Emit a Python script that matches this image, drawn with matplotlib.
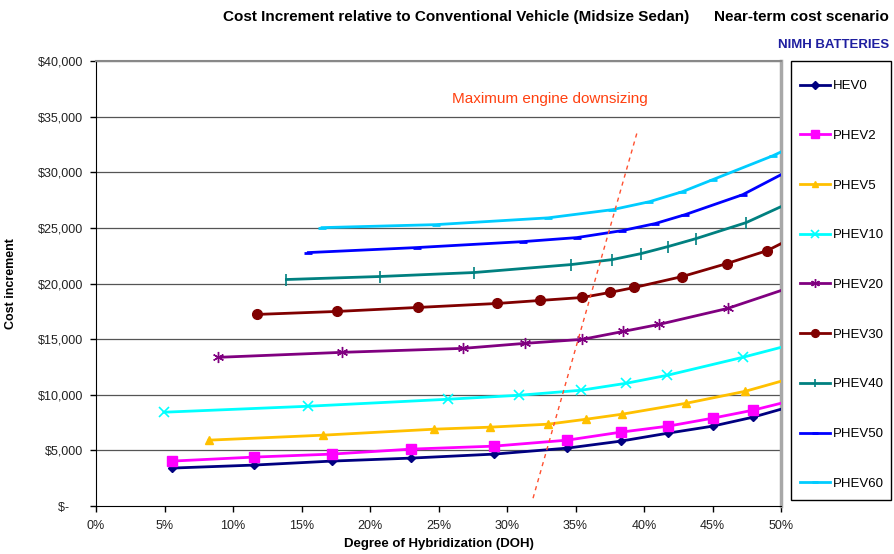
import matplotlib
matplotlib.use("Agg")
import matplotlib.pyplot as plt
from matplotlib.ticker import FuncFormatter
from matplotlib.patches import Rectangle

plt.rcParams['font.family'] = ['Liberation Sans', 'DejaVu Sans']

# ---- data (DOH in %, cost in $) ----
hev0_x = [5.55, 11.5, 17.2, 23.0, 29.05, 34.4, 38.3, 41.75, 45.0, 47.95, 51.0]
hev0_y = [3408, 3677, 4036, 4305, 4664, 5202, 5830, 6547, 7175, 7982, 9050]

phev2_x = [5.55, 11.5, 17.2, 23.0, 29.05, 34.4, 38.3, 41.75, 45.0, 47.95, 51.0]
phev2_y = [4036, 4395, 4664, 5112, 5381, 5919, 6637, 7175, 7892, 8610, 9540]

phev5_x = [8.25, 16.6, 24.7, 28.75, 33.0, 35.8, 38.4, 43.1, 47.4, 51.0]
phev5_y = [5919, 6368, 6906, 7085, 7355, 7803, 8251, 9238, 10314, 11560]

phev10_x = [4.96, 15.5, 25.7, 30.9, 35.4, 38.7, 41.7, 47.2, 51.0]
phev10_y = [8430, 8968, 9596, 9955, 10404, 11031, 11749, 13363, 14580]

phev20_x = [8.9, 17.95, 26.8, 31.3, 35.5, 38.5, 41.1, 46.1, 51.0]
phev20_y = [13363, 13812, 14170, 14619, 14978, 15695, 16323, 17758, 19780]

phev30_x = [11.75, 17.6, 23.5, 29.3, 32.4, 35.5, 37.5, 39.3, 42.8, 46.05, 49.0, 51.0]
phev30_y = [17220, 17489, 17848, 18206, 18475, 18744, 19193, 19641, 20628, 21794, 22960, 24200]

phev40_x = [13.9, 20.7, 27.6, 34.7, 37.7, 39.8, 41.75, 43.8, 47.45, 51.0]
phev40_y = [20359, 20628, 20987, 21704, 22152, 22691, 23318, 24036, 25471, 27470]

phev50_x = [15.5, 23.4, 31.2, 35.1, 38.4, 40.8, 43.0, 47.2, 51.0]
phev50_y = [22780, 23229, 23767, 24126, 24753, 25381, 26188, 27982, 30420]

phev60_x = [16.5, 24.8, 33.0, 37.7, 40.4, 42.8, 45.0, 49.4, 51.0]
phev60_y = [25022, 25291, 25900, 26637, 27354, 28251, 29327, 31480, 32400]

series_names = ["HEV0", "PHEV2", "PHEV5", "PHEV10", "PHEV20", "PHEV30", "PHEV40", "PHEV50", "PHEV60"]

downsize_line_x = [31.9, 39.5]
downsize_line_y = [700, 33600]

x_ticks = [0, 5, 10, 15, 20, 25, 30, 35, 40, 45, 50]
y_ticks = [0, 5000, 10000, 15000, 20000, 25000, 30000, 35000, 40000]

# ---- styles ----
styles = [
    dict(color='#000080', marker='D', ms=4.5),
    dict(color='#FF00FF', marker='s', ms=6.5),
    dict(color='#FFC000', marker='^', ms=6),
    dict(color='#00FFFF', marker='x', ms=7, mew=1.2),
    dict(color='#800080', marker=(6, 2, 0), ms=8, mew=1.0),
    dict(color='#800000', marker='o', ms=7),
    dict(color='#008080', marker='|', ms=8, mew=1.2),
    dict(color='#0000FF', marker='_', ms=6, mew=2),
    dict(color='#00CCFF', marker='_', ms=6, mew=2),
]
all_x = [hev0_x, phev2_x, phev5_x, phev10_x, phev20_x, phev30_x, phev40_x, phev50_x, phev60_x]
all_y = [hev0_y, phev2_y, phev5_y, phev10_y, phev20_y, phev30_y, phev40_y, phev50_y, phev60_y]

W, H = 894, 554
fig = plt.figure(figsize=(W / 100, H / 100), dpi=100)
ax = fig.add_axes([96 / W, 48 / H, (781 - 96) / W, (506 - 61) / H])

for gy in y_ticks[1:]:
    ax.axhline(gy, color='#555555', lw=0.9, zorder=1)

handles = []
for xs, ys, name, st in zip(all_x, all_y, series_names, styles):
    h, = ax.plot(xs, ys, lw=2, label=name, zorder=3, clip_on=True,
                 markeredgecolor=st['color'], **st)
    handles.append(h)

ax.plot(downsize_line_x, downsize_line_y, color='#FF5030', lw=1.0,
        dashes=(3, 3), zorder=4)
ax.text(33.1, 36600, "Maximum engine downsizing", color='#FF4010',
        fontsize=11, ha='center', va='center')

ax.set_xlim(0, 50)
ax.set_ylim(0, 40000)
ax.set_xticks(x_ticks)
ax.set_yticks(y_ticks)
ax.xaxis.set_major_formatter(FuncFormatter(lambda v, p: f"{int(round(v))}%"))
ax.yaxis.set_major_formatter(FuncFormatter(lambda v, p: "$-    " if v == 0 else f"${int(v):,}"))
ax.tick_params(axis='both', labelsize=9, colors='black', length=4, width=1, direction='out')
ax.tick_params(axis='x', pad=6)
ax.tick_params(axis='y', pad=5)
for lab in ax.get_xticklabels() + ax.get_yticklabels():
    lab.set_color('#222222')

ax.spines['left'].set_color('black')
ax.spines['bottom'].set_color('black')
ax.spines['top'].set_color('#888888')
ax.spines['top'].set_linewidth(1.5)
ax.spines['right'].set_color('#A8A8A8')
ax.spines['right'].set_linewidth(2.5)

ax.set_xlabel("Degree of Hybridization (DOH)", fontsize=9.5, fontweight='bold')
ax.xaxis.set_label_coords(0.5, -(538 - 506) / (506 - 61))
ax.set_ylabel("Cost increment", fontsize=9, fontweight='bold')
ax.yaxis.set_label_coords((17 - 96) / (781 - 96), 0.5)

# legend frame
fig.patches.append(Rectangle((791 / W, 1 - 500 / H), 100 / W, 439 / H,
                             transform=fig.transFigure, facecolor='white',
                             edgecolor='black', lw=1.0, zorder=0))
leg = fig.legend(handles=handles, loc='upper left',
                 bbox_to_anchor=(800 / W, 1 - 80 / H), frameon=False,
                 fontsize=9.5, labelspacing=2.84, handlelength=2.27,
                 handletextpad=0.2, borderpad=0, borderaxespad=0,
                 markerscale=0.8)

fig.text(689 / W, 1 - 17 / H, "Cost Increment relative to Conventional Vehicle (Midsize Sedan)",
         fontsize=11, fontweight='bold', ha='right', va='center')
fig.text(889 / W, 1 - 17 / H, "Near-term cost scenario",
         fontsize=11, fontweight='bold', ha='right', va='center')
fig.text(889 / W, 1 - 45 / H, "NIMH BATTERIES", color='#1F1FA0',
         fontsize=9.5, fontweight='bold', ha='right', va='center')

fig.savefig("out.png", dpi=100)
